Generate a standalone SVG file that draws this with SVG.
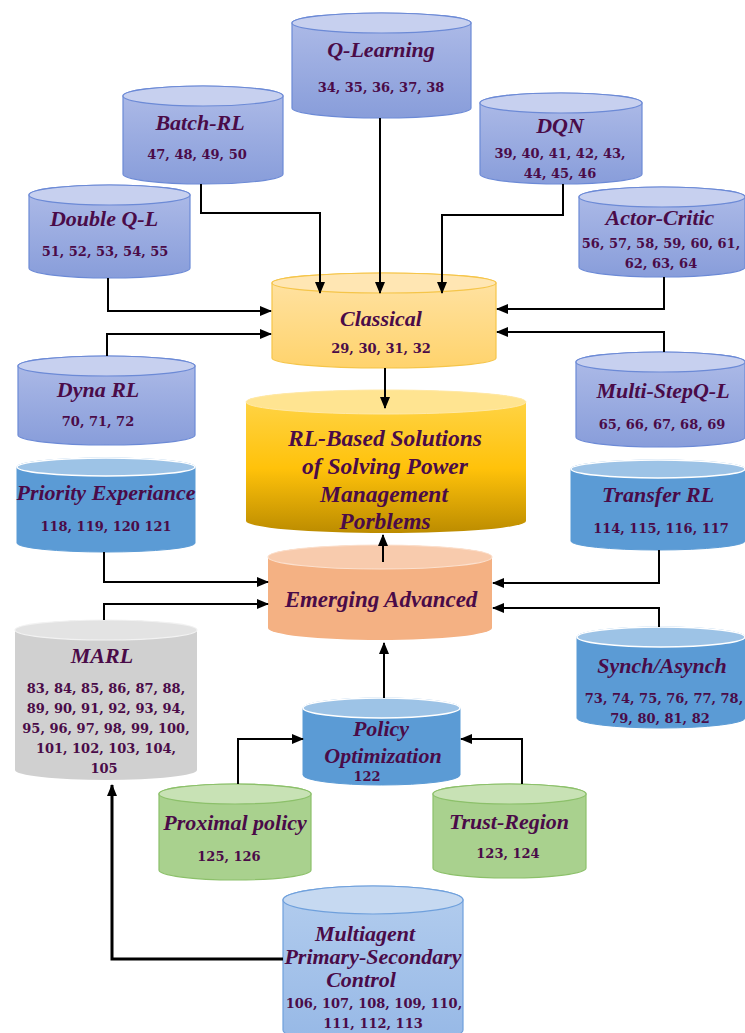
<svg xmlns="http://www.w3.org/2000/svg" width="745" height="1033" viewBox="0 0 745 1033">
<defs>
<style>
.t{font-family:"Liberation Serif",serif;font-weight:bold;font-style:italic;font-size:22px;fill:#4A0B48;text-anchor:middle}
.n{font-family:"DejaVu Serif",serif;font-weight:bold;font-size:13px;fill:#4A0B48;text-anchor:middle}
.c{fill:none;stroke:#000;stroke-width:2}
.lav{fill:url(#gLav);stroke:#6C8AD6;stroke-width:1.2}
.lavT{fill:#C7D0EF;stroke:#6C8AD6;stroke-width:1.2}
.blu{fill:#5B9BD5;stroke:#5B9BD5}
.bluT{fill:#9DC3E6;stroke:#fff;stroke-width:1.5}
.cla{fill:url(#gCla);stroke:#F5C54A;stroke-width:1.2}
.claT{fill:#FFE6B3;stroke:#F5C54A;stroke-width:1.2}
.big{fill:url(#gBig)}
.bigT{fill:#FFE491;stroke:#FFE9A8;stroke-width:1}
.emg{fill:#F4B183}
.emgT{fill:#F8CBAD;stroke:#FBE0CE;stroke-width:1.2}
.gry{fill:#D0D0D0}
.gryT{fill:#E3E3E3;stroke:#F2F2F2;stroke-width:1.2}
.grn{fill:#A9D18E;stroke:#8CC06A;stroke-width:1.2}
.grnT{fill:#C8E2B5;stroke:#8CC06A;stroke-width:1.2}
.lb{fill:url(#gLb);stroke:#6FA0DC;stroke-width:1.2}
.lbT{fill:#C6D9F1;stroke:#6FA0DC;stroke-width:1.2}
.bt{font-size:23.5px}
</style>
<linearGradient id="gLav" x1="0" y1="0" x2="0" y2="1"><stop offset="0" stop-color="#AFBCE8"/><stop offset="1" stop-color="#889DDA"/></linearGradient>
<linearGradient id="gCla" x1="0" y1="0" x2="0" y2="1"><stop offset="0" stop-color="#FFE3A6"/><stop offset="1" stop-color="#FFD36C"/></linearGradient>
<linearGradient id="gBig" x1="0" y1="0" x2="0" y2="1"><stop offset="0" stop-color="#FFD64E"/><stop offset="0.55" stop-color="#FFC20A"/><stop offset="1" stop-color="#BC8C00"/></linearGradient>
<linearGradient id="gLb" x1="0" y1="0" x2="0" y2="1"><stop offset="0" stop-color="#B3CDEE"/><stop offset="1" stop-color="#96B8E6"/></linearGradient>
<marker id="ah" markerUnits="userSpaceOnUse" markerWidth="12" markerHeight="10" refX="11" refY="5" orient="auto"><path d="M0,0 L12,5 L0,10 Z" fill="#000"/></marker>
</defs>

<g id="q-learning">
<path class="lav" d="M292,23 V108 A89.5,10 0 0 0 471,108 V23 A89.5,10 0 0 0 292,23 Z"/>
<ellipse class="lavT" cx="381.5" cy="23" rx="89.5" ry="10"/>
<text class="t" x="381" y="57">Q-Learning</text>
<text class="n" x="381" y="92">34, 35, 36, 37, 38</text>
</g>

<g id="batch-rl">
<path class="lav" d="M123,96 V174 A80,10 0 0 0 283,174 V96 A80,10 0 0 0 123,96 Z"/>
<ellipse class="lavT" cx="203" cy="96" rx="80" ry="10"/>
<text class="t" x="200" y="130">Batch-RL</text>
<text class="n" x="197" y="159">47, 48, 49, 50</text>
</g>

<g id="dqn">
<path class="lav" d="M480,103 V174 A81,10 0 0 0 642,174 V103 A81,10 0 0 0 480,103 Z"/>
<ellipse class="lavT" cx="561" cy="103" rx="81" ry="10"/>
<text class="t" x="560" y="133">DQN</text>
<text class="n" x="560" y="158">39, 40, 41, 42, 43,</text>
<text class="n" x="560" y="178">44, 45, 46</text>
</g>

<g id="double-ql">
<path class="lav" d="M29,195 V268 A80.5,10 0 0 0 190,268 V195 A80.5,10 0 0 0 29,195 Z"/>
<ellipse class="lavT" cx="109.5" cy="195" rx="80.5" ry="10"/>
<text class="t" x="104" y="226">Double Q-L</text>
<text class="n" x="105" y="256">51, 52, 53, 54, 55</text>
</g>

<g id="actor-critic">
<path class="lav" d="M579,197 V267 A83,10 0 0 0 745,267 V197 A83,10 0 0 0 579,197 Z"/>
<ellipse class="lavT" cx="662" cy="197" rx="83" ry="10"/>
<text class="t" x="660" y="225">Actor-Critic</text>
<text class="n" x="661" y="248">56, 57, 58, 59, 60, 61,</text>
<text class="n" x="661" y="268">62, 63, 64</text>
</g>

<g id="classical">
<path class="cla" d="M272,283 V358 A112,10 0 0 0 496,358 V283 A112,10 0 0 0 272,283 Z"/>
<ellipse class="claT" cx="384" cy="283" rx="112" ry="10"/>
<text class="t" x="381" y="326">Classical</text>
<text class="n" x="381" y="353">29, 30, 31, 32</text>
</g>

<g id="dyna-rl">
<path class="lav" d="M18,366 V435 A88.5,10 0 0 0 195,435 V366 A88.5,10 0 0 0 18,366 Z"/>
<ellipse class="lavT" cx="106.5" cy="366" rx="88.5" ry="10"/>
<text class="t" x="98" y="397">Dyna RL</text>
<text class="n" x="98" y="426">70, 71, 72</text>
</g>

<g id="multi-step">
<path class="lav" d="M576,362 V437 A84.5,10 0 0 0 745,437 V362 A84.5,10 0 0 0 576,362 Z"/>
<ellipse class="lavT" cx="660.5" cy="362" rx="84.5" ry="10"/>
<text class="t" x="663" y="398">Multi-StepQ-L</text>
<text class="n" x="662" y="429">65, 66, 67, 68, 69</text>
</g>

<g id="rl-based">
<path class="big" d="M246,402 V521 A140,12 0 0 0 526,521 V402 A140,12 0 0 0 246,402 Z"/>
<ellipse class="bigT" cx="386" cy="402" rx="140" ry="12"/>
<text class="t bt" x="385" y="446">RL-Based Solutions</text>
<text class="t bt" x="385" y="474">of Solving Power</text>
<text class="t bt" x="384" y="502">Management</text>
<text class="t bt" x="385" y="529">Porblems</text>
</g>

<g id="priority">
<path class="blu" d="M17,467 V543 A89,9 0 0 0 195,543 V467 A89,9 0 0 0 17,467 Z"/>
<ellipse class="bluT" cx="106" cy="467" rx="89" ry="9"/>
<text class="t" x="106" y="500">Priority Experiance</text>
<text class="n" x="106" y="531">118, 119, 120 121</text>
</g>

<g id="transfer-rl">
<path class="blu" d="M571,469 V541 A87,9 0 0 0 745,541 V469 A87,9 0 0 0 571,469 Z"/>
<ellipse class="bluT" cx="658" cy="469" rx="87" ry="9"/>
<text class="t" x="658" y="502">Transfer RL</text>
<text class="n" x="661" y="533">114, 115, 116, 117</text>
</g>

<g id="emerging">
<path class="emg" d="M268,557 V628 A112,12 0 0 0 492,628 V557 A112,12 0 0 0 268,557 Z"/>
<ellipse class="emgT" cx="380" cy="557" rx="112" ry="12"/>
<text class="t" x="381" y="607" style="font-size:23px">Emerging Advanced</text>
</g>

<g id="marl">
<path class="gry" d="M15,630 V770 A91,10 0 0 0 197,770 V630 A91,10 0 0 0 15,630 Z"/>
<ellipse class="gryT" cx="106" cy="630" rx="91" ry="10"/>
<text class="t" x="102" y="663">MARL</text>
<text class="n" x="106" y="693">83, 84, 85, 86, 87, 88,</text>
<text class="n" x="106" y="713">89, 90, 91, 92, 93, 94,</text>
<text class="n" x="106" y="733">95, 96, 97, 98, 99, 100,</text>
<text class="n" x="106" y="753">101, 102, 103, 104,</text>
<text class="n" x="104" y="773">105</text>
</g>

<g id="synch">
<path class="blu" d="M577,637 V718 A84,10 0 0 0 745,718 V637 A84,10 0 0 0 577,637 Z"/>
<ellipse class="bluT" cx="661" cy="637" rx="84" ry="10"/>
<text class="t" x="662" y="673">Synch/Asynch</text>
<text class="n" x="664" y="703">73, 74, 75, 76, 77, 78,</text>
<text class="n" x="660" y="723">79, 80, 81, 82</text>
</g>

<g id="policy">
<path class="blu" d="M303,708 V775 A78.5,10 0 0 0 460,775 V708 A78.5,10 0 0 0 303,708 Z"/>
<ellipse class="bluT" cx="381.5" cy="708" rx="78.5" ry="10"/>
<text class="t" x="381" y="736">Policy</text>
<text class="t" x="383" y="763">Optimization</text>
<text class="n" x="367" y="781">122</text>
</g>

<g id="proximal">
<path class="grn" d="M159,794 V870 A76,10 0 0 0 311,870 V794 A76,10 0 0 0 159,794 Z"/>
<ellipse class="grnT" cx="235" cy="794" rx="76" ry="10"/>
<text class="t" x="235" y="830">Proximal policy</text>
<text class="n" x="229" y="861">125, 126</text>
</g>

<g id="trust">
<path class="grn" d="M433,794 V868 A76.5,10 0 0 0 586,868 V794 A76.5,10 0 0 0 433,794 Z"/>
<ellipse class="grnT" cx="509.5" cy="794" rx="76.5" ry="10"/>
<text class="t" x="509" y="829">Trust-Region</text>
<text class="n" x="508" y="858">123, 124</text>
</g>

<g id="multiagent">
<path class="lb" d="M283,900 V1030 A90,14 0 0 0 463,1030 V900 A90,14 0 0 0 283,900 Z"/>
<ellipse class="lbT" cx="373" cy="900" rx="90" ry="14"/>
<text class="t" x="365" y="941">Multiagent</text>
<text class="t" x="373" y="964">Primary-Secondary</text>
<text class="t" x="361" y="987">Control</text>
<text class="n" x="374" y="1008">106, 107, 108, 109, 110,</text>
<text class="n" x="373" y="1028">111, 112, 113</text>
</g>

<g id="connectors">
<path class="c" d="M380,118 V293" marker-end="url(#ah)"/>
<path class="c" d="M201,184 V213 H320 V293" marker-end="url(#ah)"/>
<path class="c" d="M563,184 V215 H442 V293" marker-end="url(#ah)"/>
<path class="c" d="M108,278 V311 H271" marker-end="url(#ah)"/>
<path class="c" d="M107,356 V334 H271" marker-end="url(#ah)"/>
<path class="c" d="M664,277 V309 H497" marker-end="url(#ah)"/>
<path class="c" d="M664,352 V332 H497" marker-end="url(#ah)"/>
<path class="c" d="M385,368 V408" marker-end="url(#ah)"/>
<path class="c" d="M383,562 V535" marker-end="url(#ah)"/>
<path class="c" d="M104,552 V582 H268" marker-end="url(#ah)"/>
<path class="c" d="M104,620 V604 H268" marker-end="url(#ah)"/>
<path class="c" d="M659,550 V583 H493" marker-end="url(#ah)"/>
<path class="c" d="M659,627 V608 H493" marker-end="url(#ah)"/>
<path class="c" d="M384,698 V643" marker-end="url(#ah)"/>
<path class="c" d="M238,784 V739 H303" marker-end="url(#ah)"/>
<path class="c" d="M522,784 V739 H461" marker-end="url(#ah)"/>
<path class="c" d="M283,959 H112 V785" style="stroke-width:3" marker-end="url(#ah)"/>
</g>
</svg>
